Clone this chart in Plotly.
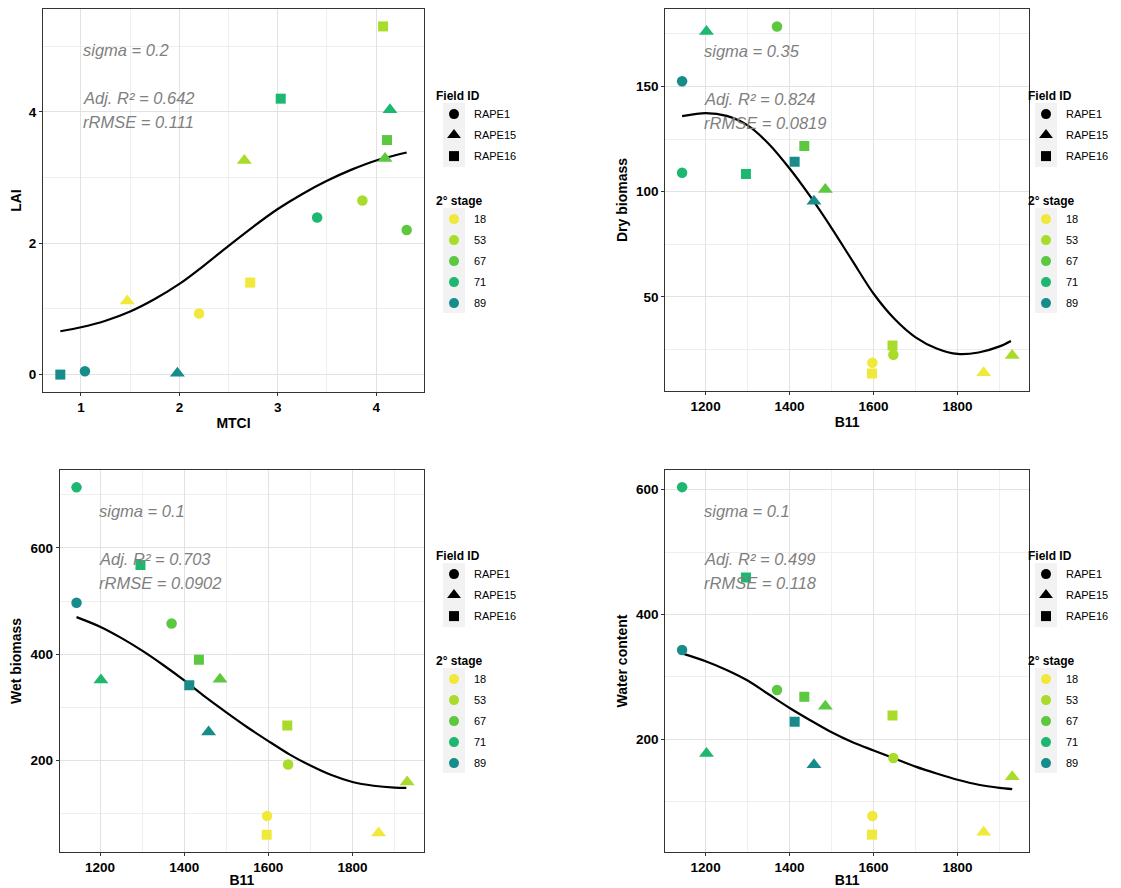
import plotly.graph_objects as go

# the page adds an 8 px body margin, so the figure is 8 px smaller than the window
PAGE_W, PAGE_H, OFF = 1121, 888, 8
W, H = PAGE_W - OFF, PAGE_H - OFF
FONT = "Liberation Sans, Arial, sans-serif"

# ---------------- data ----------------
field_levels = ["RAPE1", "RAPE15", "RAPE16"]
stage_levels = [18, 53, 67, 71, 89]
stage_colors = ["#F0E93A", "#A8DB2A", "#5BC83F", "#1DB870", "#178C8A"]
field_symbols = ["circle", "triangle-up", "square"]

# point order: for each field, stages 18, 53, 67, 71, 89
field = [f for f in field_levels for _ in stage_levels]
stage = stage_levels * 3

mtci = [2.20, 3.86, 4.31, 3.40, 1.04,
        1.47, 2.66, 4.09, 4.14, 1.98,
        2.72, 4.07, 4.11, 3.03, 0.79]
lai = [0.93, 2.65, 2.20, 2.39, 0.05,
       1.12, 3.26, 3.29, 4.03, 0.02,
       1.40, 5.30, 3.57, 4.20, 0.00]
b11 = [1597, 1647, 1370, 1144, 1144,
       1862, 1930, 1485, 1202, 1458,
       1596, 1645, 1435, 1296, 1412]
dry_biomass = [18.7, 22.5, 178.5, 109.0, 152.5,
               14.0, 22.2, 101.0, 176.1, 95.4,
               13.6, 26.9, 121.7, 108.4, 114.2]
wet_biomass = [96, 193, 458, 714, 497,
               64, 160, 353, 352, 254,
               61, 266, 390, 568, 342]
water_content = [77, 170, 279, 604, 343,
                 51, 140, 253, 177, 159,
                 47, 238, 268, 459, 228]

# fitted curves
lai_fit_x = [0.79, 1.0, 1.25, 1.5, 1.75, 2.0, 2.25, 2.5, 2.75, 3.0, 3.25, 3.5, 3.75, 4.0, 4.31]
lai_fit_y = [0.66, 0.72, 0.82, 0.96, 1.15, 1.38, 1.66, 1.96, 2.25, 2.52, 2.75, 2.95, 3.12, 3.26, 3.38]
dry_fit_x = [1144, 1200, 1250, 1300, 1350, 1400, 1450, 1500, 1550, 1600, 1650, 1700, 1750, 1800, 1850, 1900, 1927]
dry_fit_y = [135.9, 137.3, 136.0, 131.5, 122.8, 111.0, 97.5, 82.7, 67.0, 51.5, 39.5, 30.8, 25.5, 22.9, 23.6, 26.5, 29.1]
wet_fit_x = [1144, 1200, 1250, 1300, 1350, 1400, 1450, 1500, 1550, 1600, 1650, 1700, 1750, 1800, 1850, 1900, 1928]
wet_fit_y = [470, 452, 431, 407, 380, 351, 320, 291, 263, 237, 212, 191, 173, 160, 153, 149.5, 149]
water_fit_x = [1144, 1200, 1250, 1300, 1350, 1400, 1450, 1500, 1550, 1600, 1650, 1700, 1750, 1800, 1850, 1900, 1930]
water_fit_y = [337.6, 325, 311, 294, 272, 250, 230, 211, 195, 182, 169, 156, 145, 135, 127, 122, 120]

stats_lai = ["sigma = 0.2", "Adj. R² = 0.642", "rRMSE = 0.111"]
stats_dry = ["sigma = 0.35", "Adj. R² = 0.824", "rRMSE = 0.0819"]
stats_wet = ["sigma = 0.1", "Adj. R² = 0.703", "rRMSE = 0.0902"]
stats_water = ["sigma = 0.1", "Adj. R² = 0.499", "rRMSE = 0.118"]

# ---------------- layout helpers (arguments are page pixels) ----------------
def px_x(v):
    return (v - OFF) / W

def px_y(v):
    return 1 - (v - OFF) / H

panels = [
    dict(x=mtci, y=lai, fx=lai_fit_x, fy=lai_fit_y, stats=stats_lai,
         xt="MTCI", yt="LAI", box=(43, 424, 9, 392),
         xr=[0.614, 4.486], yr=[-0.265, 5.565], xd=1, yd=2,
         ann_x=1.0, ann_y=[4.94, 4.21, 3.84], leg_x=434, leg_top=0),
    dict(x=b11, y=dry_biomass, fx=dry_fit_x, fy=dry_fit_y, stats=stats_dry,
         xt="B11", yt="Dry biomass", box=(665.3, 1029, 9, 391),
         xr=[1104, 1970], yr=[5.3, 186.8], xd=200, yd=50,
         ann_x=1191, ann_y=[167.0, 144.1, 132.6], leg_x=1026, leg_top=0),
    dict(x=b11, y=wet_biomass, fx=wet_fit_x, fy=wet_fit_y, stats=stats_wet,
         xt="B11", yt="Wet biomass", box=(59.7, 424, 470, 852),
         xr=[1104, 1970], yr=[28.4, 746.6], xd=200, yd=200,
         ann_x=1192, ann_y=[669.5, 579, 533.6], leg_x=434, leg_top=460),
    dict(x=b11, y=water_content, fx=water_fit_x, fy=water_fit_y, stats=stats_water,
         xt="B11", yt="Water content", box=(665.3, 1029, 470, 852),
         xr=[1104, 1970], yr=[19.2, 631.5], xd=200, yd=200,
         ann_x=1191, ann_y=[565, 488.5, 449.6], leg_x=1026, leg_top=460),
]

fig = go.Figure()
layout = dict(width=W, height=H, margin=dict(l=0, r=0, t=0, b=0, autoexpand=False),
              paper_bgcolor="white", plot_bgcolor="white",
              font=dict(family=FONT, color="black"), showlegend=True)
shapes = []
annotations = []

sizes = {"circle": 10.5, "triangle-up": 13, "square": 10}

for i, p in enumerate(panels):
    n = i + 1
    xa = "x" if n == 1 else f"x{n}"
    ya = "y" if n == 1 else f"y{n}"
    xkey = "xaxis" if n == 1 else f"xaxis{n}"
    ykey = "yaxis" if n == 1 else f"yaxis{n}"
    l, r, t, b = p["box"]

    common = dict(showline=True, mirror=True, linecolor="#333333", linewidth=1,
                  ticks="outside", ticklen=3, tickwidth=1, tickcolor="#333333",
                  showgrid=True, gridcolor="#E2E2E2", gridwidth=1, zeroline=False,
                  automargin=False,
                  tickfont=dict(family=FONT, size=13.5, color="black", weight="bold"))
    layout[xkey] = dict(common, domain=[px_x(l), px_x(r)], anchor=ya, range=p["xr"],
                        tickmode="linear", tick0=0, dtick=p["xd"],
                        minor=dict(dtick=p["xd"] / 2, tick0=0, showgrid=True,
                                   gridcolor="#EFEFEF", gridwidth=0.8, ticks=""),
                        title=dict(text=p["xt"], standoff=3,
                                   font=dict(family=FONT, size=14, color="black", weight="bold")))
    layout[ykey] = dict(common, domain=[px_y(b), px_y(t)], anchor=xa, range=p["yr"],
                        tickmode="linear", tick0=0, dtick=p["yd"],
                        minor=dict(dtick=p["yd"] / 2, tick0=0, showgrid=True,
                                   gridcolor="#EFEFEF", gridwidth=0.8, ticks=""),
                        title=dict(text=p["yt"], standoff=5,
                                   font=dict(family=FONT, size=14, color="black", weight="bold")))

    # fitted curve
    fig.add_trace(go.Scatter(x=p["fx"], y=p["fy"], mode="lines", xaxis=xa, yaxis=ya,
                             line=dict(color="black", width=2.2, shape="spline", smoothing=0.8),
                             showlegend=False, hoverinfo="skip"))
    # points, one trace per field
    for fi, fld in enumerate(field_levels):
        idx = [k for k in range(len(field)) if field[k] == fld]
        fig.add_trace(go.Scatter(
            x=[p["x"][k] for k in idx], y=[p["y"][k] for k in idx],
            mode="markers", xaxis=xa, yaxis=ya, showlegend=False,
            marker=dict(symbol=field_symbols[fi], size=sizes[field_symbols[fi]],
                        color=[stage_colors[stage_levels.index(stage[k])] for k in idx],
                        line=dict(width=0))))

    # stats text
    for txt, yy in zip(p["stats"], p["ann_y"]):
        annotations.append(dict(x=p["ann_x"], y=yy, xref=xa, yref=ya, text=txt,
                                showarrow=False, xanchor="left", yanchor="middle",
                                font=dict(family=FONT, size=16.5, color="#7F7F7F", style="italic")))

    # legends
    lf = f"legend{2 * i + 1}" if i > 0 else "legend"
    ls = f"legend{2 * i + 2}"
    for fi, fld in enumerate(field_levels):
        fig.add_trace(go.Scatter(x=[None], y=[None], mode="markers", name=fld,
                                 xaxis=xa, yaxis=ya, legend=lf, legendgroup=f"f{i}{fi}",
                                 marker=dict(symbol=field_symbols[fi], color="black",
                                             size=10 if fi != 1 else 12)))
    for si, st in enumerate(stage_levels):
        fig.add_trace(go.Scatter(x=[None], y=[None], mode="markers", name=str(st),
                                 xaxis=xa, yaxis=ya, legend=ls, legendgroup=f"s{i}{si}",
                                 marker=dict(symbol="circle", color=stage_colors[si], size=10)))
    top = p["leg_top"]
    leg_common = dict(xanchor="left", yanchor="top", bgcolor="rgba(0,0,0,0)",
                      font=dict(family=FONT, size=11, color="black"),
                      tracegroupgap=2, itemclick=False, itemdoubleclick=False)
    layout[lf] = dict(leg_common, x=px_x(p["leg_x"]), y=px_y(top + 84),
                      title=dict(text="Field ID", font=dict(family=FONT, size=12, color="black", weight="bold")))
    layout[ls] = dict(leg_common, x=px_x(p["leg_x"]), y=px_y(top + 189),
                      title=dict(text="2° stage", font=dict(family=FONT, size=12, color="black", weight="bold")))
    kx = p["leg_x"] + 20
    shapes.append(dict(type="rect", xref="paper", yref="paper", layer="below",
                       x0=px_x(kx - 11), x1=px_x(kx + 11), y0=px_y(top + 167), y1=px_y(top + 103),
                       fillcolor="#F2F2F2", line=dict(width=0)))
    shapes.append(dict(type="rect", xref="paper", yref="paper", layer="below",
                       x0=px_x(kx - 11), x1=px_x(kx + 11), y0=px_y(top + 313), y1=px_y(top + 208),
                       fillcolor="#F2F2F2", line=dict(width=0)))

layout["shapes"] = shapes
layout["annotations"] = annotations
fig.update_layout(**layout)
fig.write_html("out.html")
